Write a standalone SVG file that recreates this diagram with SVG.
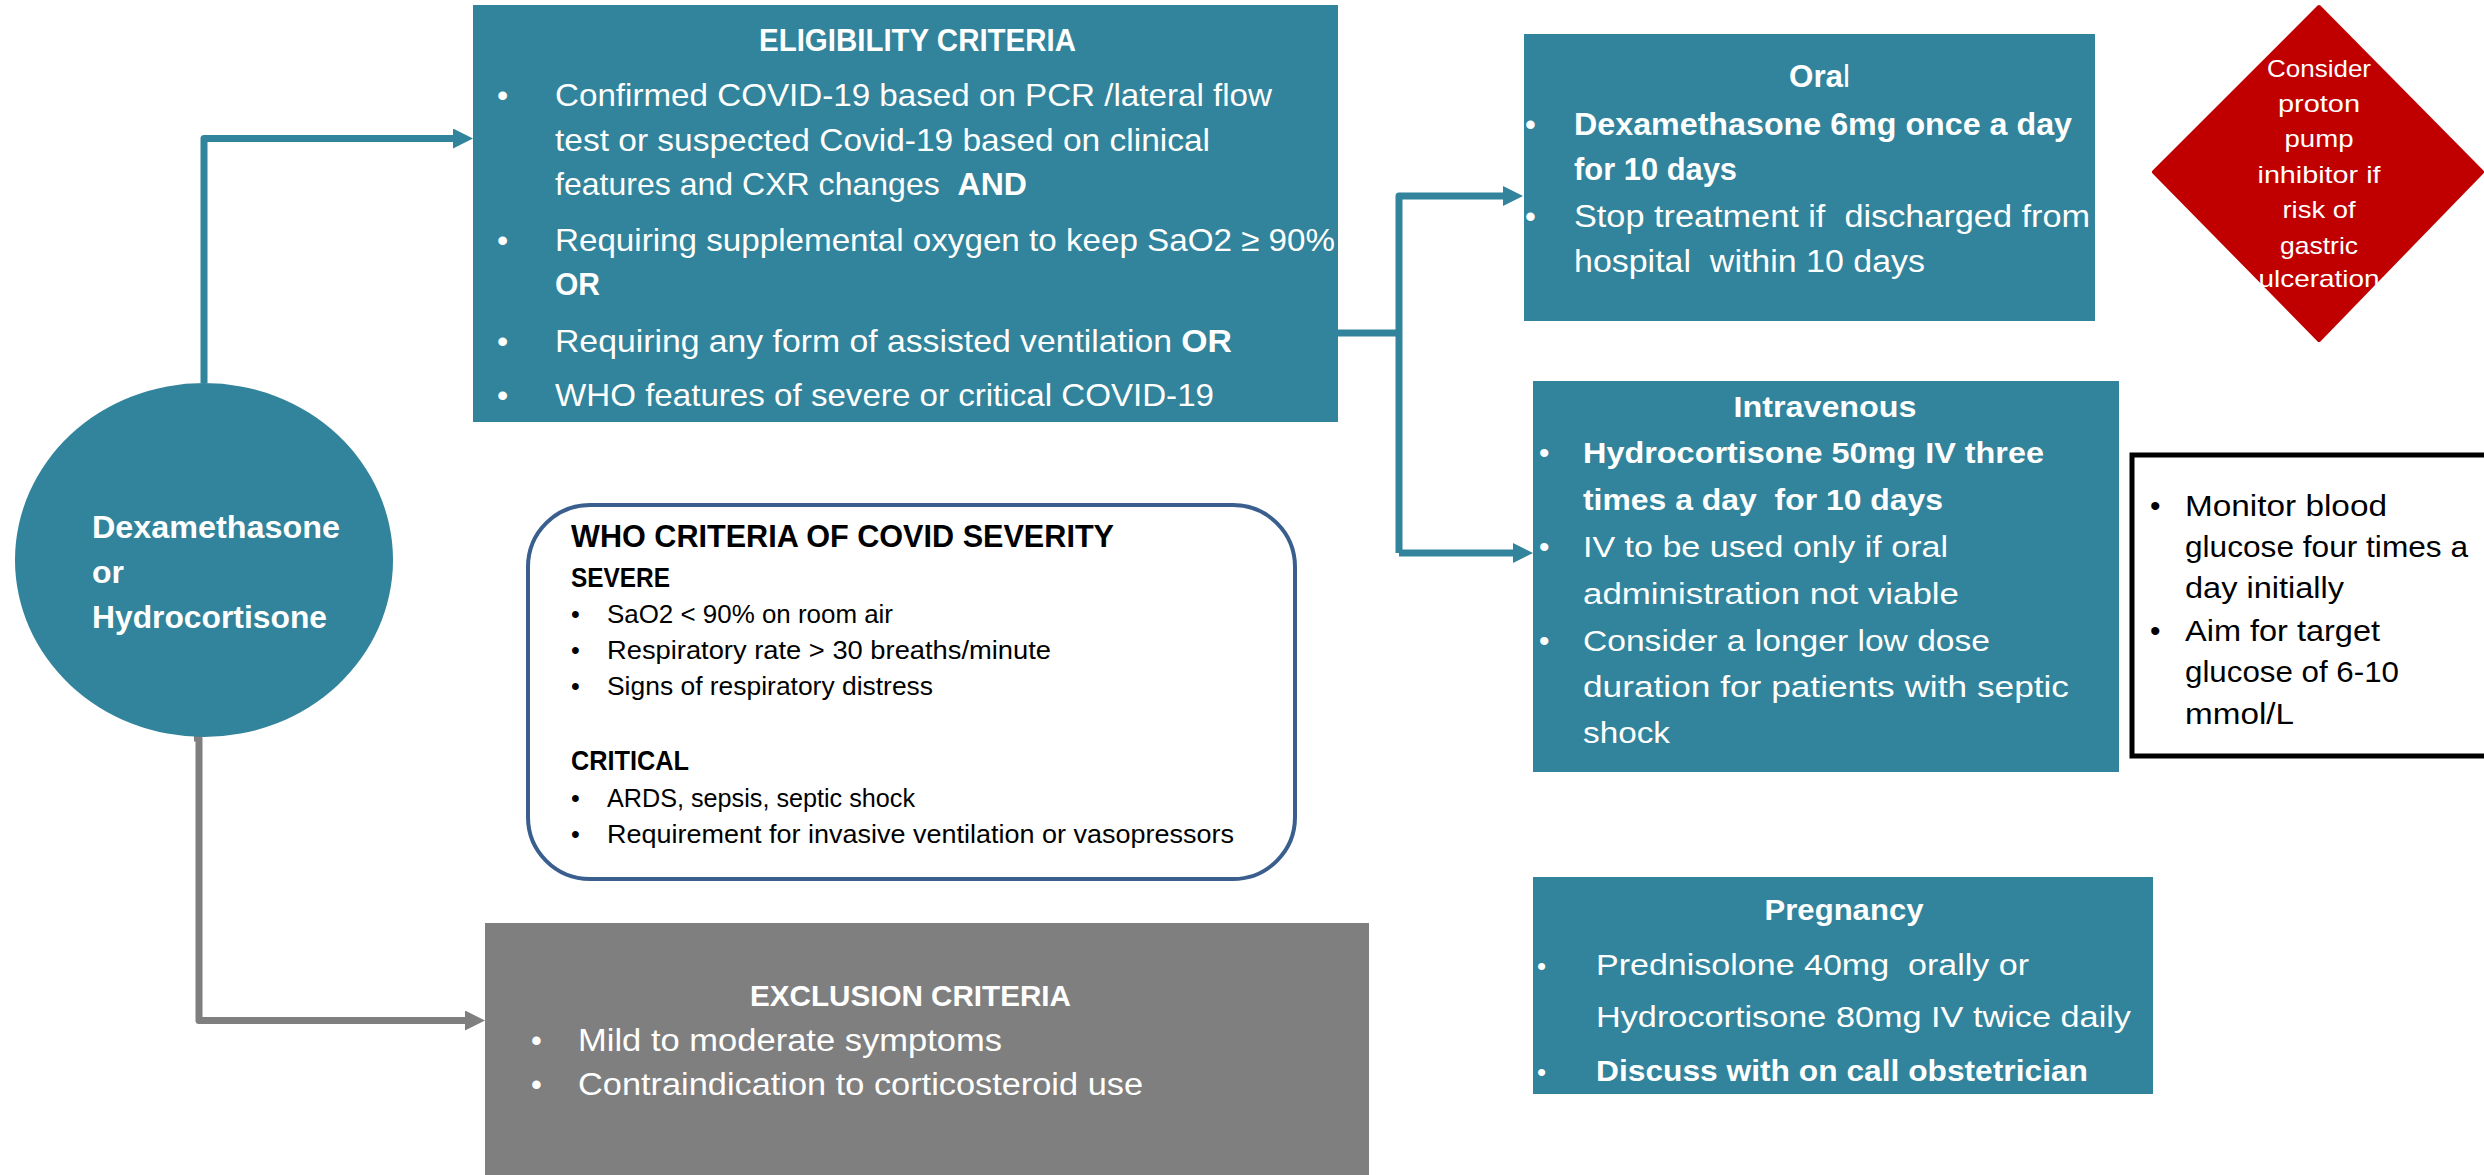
<svg xmlns="http://www.w3.org/2000/svg" width="2484" height="1175" viewBox="0 0 2484 1175">
  <style>
    .t { font-family: "Liberation Sans", Arial, sans-serif; white-space: pre; }
    .w { fill: #ffffff; }
    .k { fill: #000000; }
    .b { font-weight: bold; }
    .teal { fill: #31849B; }
    .gray { fill: #7F7F7F; }
    .wire { fill: none; stroke-width: 7; stroke-linejoin: round; }
  </style>
  <defs>
    <marker id="arrTeal" markerUnits="userSpaceOnUse" markerWidth="20" markerHeight="20" viewBox="0 0 20 20" refX="2" refY="10" orient="auto">
      <path d="M0,0 L20,10 L0,20 z" fill="#31849B"/>
    </marker>
    <marker id="arrGray" markerUnits="userSpaceOnUse" markerWidth="20" markerHeight="20" viewBox="0 0 20 20" refX="2" refY="10" orient="auto">
      <path d="M0,0 L20,10 L0,20 z" fill="#7F7F7F"/>
    </marker>
  </defs>

  <rect width="2484" height="1175" fill="#ffffff"/>

  <!-- connectors -->
  <g id="connectors">
    <path class="wire" stroke="#31849B" d="M204,383 V138.5 H455" marker-end="url(#arrTeal)"/>
    <path class="wire" stroke="#31849B" d="M1338,333 H1399"/>
    <path class="wire" stroke="#31849B" d="M1399,553 V196 H1505" marker-end="url(#arrTeal)"/>
    <path class="wire" stroke="#31849B" d="M1399,553 H1515" marker-end="url(#arrTeal)"/>
    <path class="wire" stroke="#7F7F7F" d="M194,738 H199 V1020.5 H467" marker-end="url(#arrGray)"/>
  </g>

  <!-- start node -->
  <g id="drug">
    <ellipse cx="204" cy="560" rx="189" ry="177" class="teal"/>
    <text class="t w b" font-size="32" x="92" y="538" textLength="248" lengthAdjust="spacingAndGlyphs">Dexamethasone</text>
    <text class="t w b" font-size="32" x="92" y="583">or</text>
    <text class="t w b" font-size="32" x="92" y="628" textLength="235" lengthAdjust="spacingAndGlyphs">Hydrocortisone</text>
  </g>

  <!-- eligibility criteria -->
  <g id="eligibility">
    <rect x="473" y="5" width="865" height="417" class="teal"/>
    <text class="t w b" font-size="31" x="759" y="51" textLength="317" lengthAdjust="spacingAndGlyphs">ELIGIBILITY CRITERIA</text>
    <g class="t w" font-size="32">
      <text x="497" y="106">•</text>
      <text x="555" y="106" textLength="717" lengthAdjust="spacingAndGlyphs">Confirmed COVID-19 based on PCR /lateral flow</text>
      <text x="555" y="151" textLength="655" lengthAdjust="spacingAndGlyphs">test or suspected Covid-19 based on clinical</text>
      <text xml:space="preserve" x="555" y="195" textLength="472" lengthAdjust="spacingAndGlyphs">features and CXR changes  <tspan class="b">AND</tspan></text>
      <text x="497" y="251">•</text>
      <text x="555" y="251" textLength="780" lengthAdjust="spacingAndGlyphs">Requiring supplemental oxygen to keep SaO2 ≥ 90%</text>
      <text class="b" x="555" y="295" textLength="45" lengthAdjust="spacingAndGlyphs">OR</text>
      <text x="497" y="352">•</text>
      <text x="555" y="352" textLength="677" lengthAdjust="spacingAndGlyphs">Requiring any form of assisted ventilation <tspan class="b">OR</tspan></text>
      <text x="497" y="406">•</text>
      <text x="555" y="406" textLength="659" lengthAdjust="spacingAndGlyphs">WHO features of severe or critical COVID-19</text>
    </g>
  </g>

  <!-- WHO severity reference -->
  <g id="who-criteria">
    <rect x="528" y="505" width="767" height="374" rx="62" ry="62" fill="#ffffff" stroke="#3A5F8F" stroke-width="4"/>
    <text class="t k b" font-size="32" x="571" y="547" textLength="543" lengthAdjust="spacingAndGlyphs">WHO CRITERIA OF COVID SEVERITY</text>
    <text class="t k b" font-size="28" x="571" y="587" textLength="99" lengthAdjust="spacingAndGlyphs">SEVERE</text>
    <g class="t k" font-size="25">
      <text x="571" y="623">•</text>
      <text x="607" y="623" textLength="286" lengthAdjust="spacingAndGlyphs">SaO2 &lt; 90% on room air</text>
      <text x="571" y="659">•</text>
      <text x="607" y="659" textLength="444" lengthAdjust="spacingAndGlyphs">Respiratory rate &gt; 30 breaths/minute</text>
      <text x="571" y="695">•</text>
      <text x="607" y="695" textLength="326" lengthAdjust="spacingAndGlyphs">Signs of respiratory distress</text>
    </g>
    <text class="t k b" font-size="28" x="571" y="770" textLength="118" lengthAdjust="spacingAndGlyphs">CRITICAL</text>
    <g class="t k" font-size="25">
      <text x="571" y="807">•</text>
      <text x="607" y="807" textLength="308" lengthAdjust="spacingAndGlyphs">ARDS, sepsis, septic shock</text>
      <text x="571" y="843">•</text>
      <text x="607" y="843" textLength="627" lengthAdjust="spacingAndGlyphs">Requirement for invasive ventilation or vasopressors</text>
    </g>
  </g>

  <!-- exclusion criteria -->
  <g id="exclusion">
    <rect x="485" y="923" width="884" height="260" class="gray"/>
    <text class="t w b" font-size="30" x="750" y="1006" textLength="321" lengthAdjust="spacingAndGlyphs">EXCLUSION CRITERIA</text>
    <g class="t w" font-size="31">
      <text x="531" y="1051">•</text>
      <text x="578" y="1051" textLength="424" lengthAdjust="spacingAndGlyphs">Mild to moderate symptoms</text>
      <text x="531" y="1095">•</text>
      <text x="578" y="1095" textLength="565" lengthAdjust="spacingAndGlyphs">Contraindication to corticosteroid use</text>
    </g>
  </g>

  <!-- oral regimen -->
  <g id="oral">
    <rect x="1524" y="34" width="571" height="287" class="teal"/>
    <text class="t w" font-size="31" x="1789" y="87" textLength="61" lengthAdjust="spacingAndGlyphs"><tspan class="b">Ora</tspan>l</text>
    <g class="t w" font-size="31">
      <text x="1525" y="135">•</text>
      <text class="b" x="1574" y="135" textLength="498" lengthAdjust="spacingAndGlyphs">Dexamethasone 6mg once a day</text>
      <text class="b" x="1574" y="180" textLength="163" lengthAdjust="spacingAndGlyphs">for 10 days</text>
      <text x="1525" y="227">•</text>
      <text xml:space="preserve" x="1574" y="227" textLength="516" lengthAdjust="spacingAndGlyphs">Stop treatment if  discharged from</text>
      <text xml:space="preserve" x="1574" y="272" textLength="351" lengthAdjust="spacingAndGlyphs">hospital  within 10 days</text>
    </g>
  </g>

  <!-- proton pump inhibitor note -->
  <g id="ppi">
    <polygon points="2319,7 2482,172 2319,340 2154,172" fill="#C00000" stroke="#C00000" stroke-width="4" stroke-linejoin="round"/>
    <g class="t w" font-size="24" text-anchor="middle">
      <text x="2319" y="77" textLength="104" lengthAdjust="spacingAndGlyphs">Consider</text>
      <text x="2319" y="112" textLength="82" lengthAdjust="spacingAndGlyphs">proton</text>
      <text x="2319" y="147" textLength="69" lengthAdjust="spacingAndGlyphs">pump</text>
      <text x="2319" y="183" textLength="123" lengthAdjust="spacingAndGlyphs">inhibitor if</text>
      <text x="2319" y="218" textLength="73" lengthAdjust="spacingAndGlyphs">risk of</text>
      <text x="2319" y="254" textLength="78" lengthAdjust="spacingAndGlyphs">gastric</text>
      <text x="2319" y="287" textLength="121" lengthAdjust="spacingAndGlyphs">ulceration</text>
    </g>
  </g>

  <!-- intravenous regimen -->
  <g id="intravenous">
    <rect x="1533" y="381" width="586" height="391" class="teal"/>
    <text class="t w b" font-size="30" x="1825" y="417" text-anchor="middle" textLength="183" lengthAdjust="spacingAndGlyphs">Intravenous</text>
    <g class="t w" font-size="30">
      <text x="1539" y="463">•</text>
      <text class="b" x="1583" y="463" textLength="461" lengthAdjust="spacingAndGlyphs">Hydrocortisone 50mg IV three</text>
      <text xml:space="preserve" class="b" x="1583" y="510" textLength="360" lengthAdjust="spacingAndGlyphs">times a day  for 10 days</text>
      <text x="1539" y="557">•</text>
      <text x="1583" y="557" textLength="365" lengthAdjust="spacingAndGlyphs">IV to be used only if oral</text>
      <text x="1583" y="604" textLength="376" lengthAdjust="spacingAndGlyphs">administration not viable</text>
      <text x="1539" y="651">•</text>
      <text x="1583" y="651" textLength="407" lengthAdjust="spacingAndGlyphs">Consider a longer low dose</text>
      <text x="1583" y="697" textLength="486" lengthAdjust="spacingAndGlyphs">duration for patients with septic</text>
      <text x="1583" y="743" textLength="87" lengthAdjust="spacingAndGlyphs">shock</text>
    </g>
  </g>

  <!-- glucose monitoring note -->
  <g id="glucose">
    <rect x="2132" y="455" width="380" height="301" fill="#ffffff" stroke="#000000" stroke-width="5"/>
    <g class="t k" font-size="30">
      <text x="2150" y="516">•</text>
      <text x="2185" y="516" textLength="202" lengthAdjust="spacingAndGlyphs">Monitor blood</text>
      <text x="2185" y="557" textLength="283" lengthAdjust="spacingAndGlyphs">glucose four times a</text>
      <text x="2185" y="598" textLength="159" lengthAdjust="spacingAndGlyphs">day initially</text>
      <text x="2150" y="641">•</text>
      <text x="2185" y="641" textLength="195" lengthAdjust="spacingAndGlyphs">Aim for target</text>
      <text x="2185" y="682" textLength="214" lengthAdjust="spacingAndGlyphs">glucose of 6-10</text>
      <text x="2185" y="724" textLength="109" lengthAdjust="spacingAndGlyphs">mmol/L</text>
    </g>
  </g>

  <!-- pregnancy regimen -->
  <g id="pregnancy">
    <rect x="1533" y="877" width="620" height="217" class="teal"/>
    <text class="t w b" font-size="30" x="1844" y="920" text-anchor="middle" textLength="159" lengthAdjust="spacingAndGlyphs">Pregnancy</text>
    <g class="t w" font-size="30">
      <text x="1537" y="975" font-size="26">•</text>
      <text xml:space="preserve" x="1596" y="975" textLength="433" lengthAdjust="spacingAndGlyphs">Prednisolone 40mg  orally or</text>
      <text x="1596" y="1027" textLength="535" lengthAdjust="spacingAndGlyphs">Hydrocortisone 80mg IV twice daily</text>
      <text x="1537" y="1081" font-size="26">•</text>
      <text class="b" x="1596" y="1081" textLength="492" lengthAdjust="spacingAndGlyphs">Discuss with on call obstetrician</text>
    </g>
  </g>
</svg>
